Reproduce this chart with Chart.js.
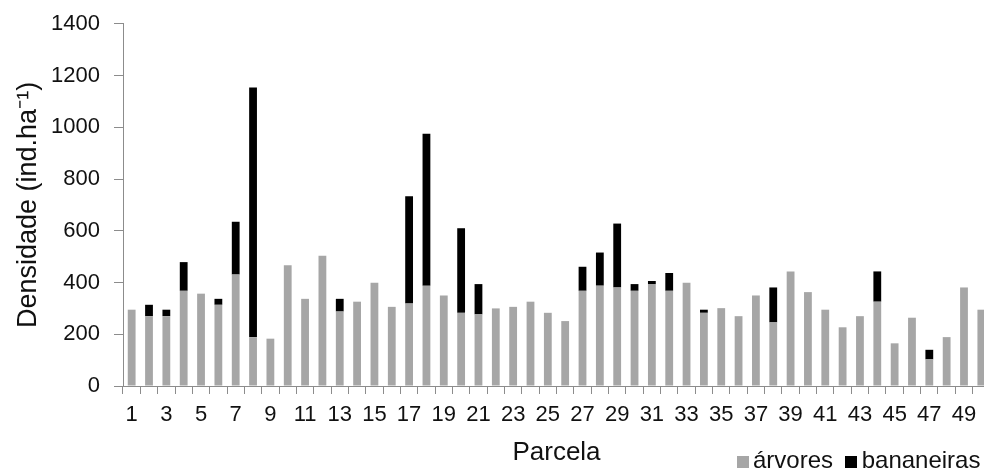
<!DOCTYPE html>
<html>
<head>
<meta charset="utf-8">
<script src="https://cdn.jsdelivr.net/npm/chart.js@4.4.0/dist/chart.umd.min.js"></script>
<style>
  html, body { margin: 0; padding: 0; background: #fff; overflow: hidden; }
  #wrap { position: relative; width: 990px; height: 472px; }
  #legend {
    position: absolute; left: 737px; top: 448px;
    font: 24px "Liberation Sans", Arial, sans-serif; color: #111;
    white-space: nowrap; line-height: 24px;
  }
  #legend i { display: inline-block; width: 12px; height: 12px; margin-right: 4px; vertical-align: 0px; }
  #legend i.b { margin-left: 5px; margin-right: 5px; }
</style>
</head>
<body>
<div id="wrap">
  <canvas id="myChart"></canvas>
  <div id="legend"><i style="background:#a6a6a6"></i>árvores <i class="b" style="background:#000"></i>bananeiras</div>
</div>
<script>
// data
const parcelas = ['1','2','3','4','5','6','7','8','9','10','11','12','13','14','15','16','17','18','19','20',
  '21','22','23','24','25','26','27','28','29','30','31','32','33','34','35','36','37','38','39','40',
  '41','42','43','44','45','46','47','48','49','50'];
const arvores = [295,270,270,368,357,314,431,189,183,467,337,504,288,326,399,306,319,388,350,283,
  277,300,306,326,283,251,368,388,381,368,394,368,399,283,301,270,350,246,443,363,
  295,227,270,326,165,264,103,189,381,295];
const bananeiras = [0,44,25,111,0,23,204,965,0,0,0,0,49,0,0,0,415,587,0,327,
  117,0,0,0,0,0,93,128,247,26,12,69,0,12,0,0,0,135,0,0,
  0,0,0,117,0,0,37,0,0,0];
const yTicks = [0,200,400,600,800,1000,1200,1400];

const FONT = '"Liberation Sans", Arial, sans-serif';
const AXIS_GREY = '#8c8c8c';
const TEXT = '#111111';

new Chart(document.getElementById('myChart').getContext('2d'), {
  type: 'bar',
  data: {
    labels: parcelas,
    datasets: [
      { label: 'árvores', data: arvores, backgroundColor: '#a6a6a6', barPercentage: 0.45, categoryPercentage: 1 },
      { label: 'bananeiras', data: bananeiras, backgroundColor: '#000000', barPercentage: 0.45, categoryPercentage: 1 }
    ]
  },
  options: {
    responsive: true,
    maintainAspectRatio: false,
    animation: false,
    layout: { padding: { top: 7, left: 0, right: 0, bottom: 0 } },
    plugins: { legend: { display: false }, tooltip: { enabled: false } },
    scales: {
      x: {
        stacked: true,
        afterFit: axis => { axis.height = 86; },
        grid: { offset: true, drawOnChartArea: false, drawTicks: true, tickLength: 8, color: AXIS_GREY },
        border: { color: AXIS_GREY },
        ticks: {
          autoSkip: false, maxRotation: 0, padding: 8,
          color: TEXT, font: { family: FONT, size: 22 },
          callback: (v, i) => (i % 2 === 0 ? parcelas[i] : '')
        },
        title: { display: true, text: 'Parcela', color: TEXT, font: { family: FONT, size: 26 }, padding: { top: 4, bottom: 4 } }
      },
      y: {
        stacked: true,
        min: yTicks[0],
        max: yTicks[yTicks.length - 1],
        afterBuildTicks: axis => { axis.ticks = yTicks.map(v => ({ value: v })); },
        afterFit: axis => { axis.width = 123; },
        grid: { drawOnChartArea: false, drawTicks: true, tickLength: 9, color: AXIS_GREY },
        border: { color: AXIS_GREY },
        ticks: { padding: 14, color: TEXT, font: { family: FONT, size: 22, lineHeight: 0.9 }, callback: v => String(v) },
        title: { display: true, text: 'Densidade (ind.ha⁻¹)', color: TEXT, font: { family: FONT, size: 27 }, padding: { top: 12, bottom: 4 } }
      }
    }
  }
});
</script>
</body>
</html>
